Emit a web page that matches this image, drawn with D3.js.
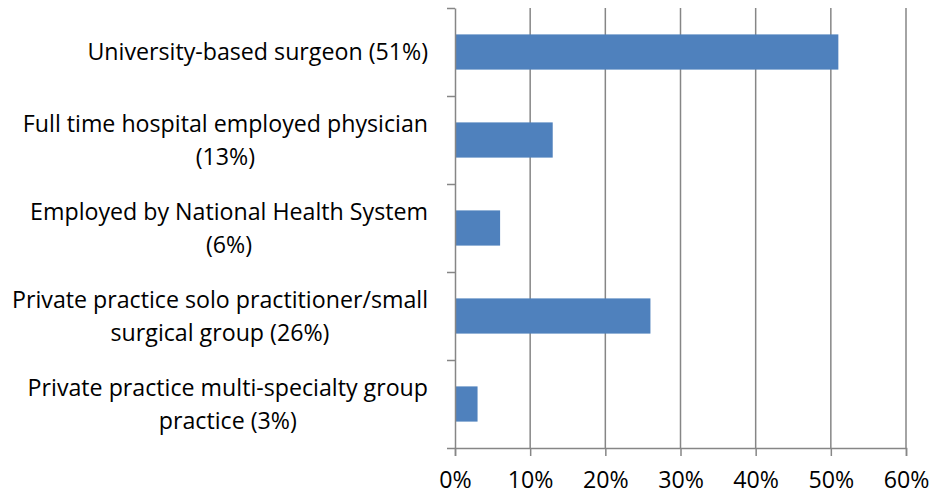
<!DOCTYPE html>
<html><head><meta charset="utf-8">
<script src="https://cdn.jsdelivr.net/npm/d3@7"></script>
<style>body{margin:0;background:#fff}svg{display:block}text{font-family:"Open Sans",sans-serif;fill:#000}</style>
</head><body>
<script>
const categories = [
  ["University-based surgeon (51%)"],
  ["Full time hospital employed physician", "(13%)"],
  ["Employed by National Health System", "(6%)"],
  ["Private practice solo practitioner/small", "surgical group (26%)"],
  ["Private practice multi-specialty group", "practice (3%)"]
];
const values = [51, 13, 6, 26, 3];
const xTicks = [0, 10, 20, 30, 40, 50, 60];

const W = 932, H = 495;
const m = {left: 455, right: 26, top: 8, bottom: 47};
const FS = "23.2px";
const svg = d3.select("body").append("svg").attr("width", W).attr("height", H);

const x = d3.scaleLinear().domain([0, 60]).range([m.left, W - m.right]);
const y = d3.scaleBand().domain(d3.range(categories.length)).range([m.top, H - m.bottom]).paddingInner(0.6).paddingOuter(0.3);
const yEdge = d3.scaleLinear().domain([0, categories.length]).range([m.top, H - m.bottom]);
const grey = "#868686";

// gridlines
svg.append("g").selectAll("line").data(xTicks.slice(1)).join("line")
  .attr("x1", d => x(d)).attr("x2", d => x(d))
  .attr("y1", m.top).attr("y2", H - m.bottom)
  .attr("stroke", grey).attr("stroke-width", 1.5);

// x axis
const xa = svg.append("g").attr("transform", `translate(0,${H - m.bottom})`)
  .call(d3.axisBottom(x).tickValues(xTicks).tickFormat(d => d + "%").tickSize(8).tickPadding(16));
xa.select(".domain").attr("stroke", grey).attr("stroke-width", 1.5);
xa.selectAll(".tick line").attr("stroke", grey).attr("stroke-width", 1.5);
xa.selectAll(".tick text").style("font-size", FS).style("font-family", "'Open Sans',sans-serif").attr("fill", "#000");

// bars
svg.append("g").selectAll("rect").data(values).join("rect")
  .attr("x", x(0)).attr("y", (d, i) => y(i))
  .attr("width", d => x(d) - x(0)).attr("height", y.bandwidth())
  .attr("fill", "#4F81BD");

// y axis
const ya = svg.append("g").attr("transform", `translate(${m.left},0)`)
  .call(d3.axisLeft(yEdge).tickValues(d3.range(categories.length + 1)).tickFormat("").tickSize(8).tickSizeOuter(0));
ya.select(".domain").attr("stroke", grey).attr("stroke-width", 1.5);
ya.selectAll(".tick line").attr("stroke", grey).attr("stroke-width", 1.5);

// category labels
const labelRight = 428, lineH = 33;
categories.forEach((lines, i) => {
  const cy = y(i) + y.bandwidth() / 2;
  const n = lines.length;
  const t = svg.append("text").attr("text-anchor", "middle").style("font-size", FS);
  lines.forEach((s, j) => {
    t.append("tspan").attr("x", 0).attr("y", cy + 8 + (j - (n - 1) / 2) * lineH).text(s);
  });
  const maxW = d3.max(t.selectAll("tspan").nodes(), nd => nd.getComputedTextLength());
  t.selectAll("tspan").attr("x", labelRight - maxW / 2);
});
</script>
</body></html>
